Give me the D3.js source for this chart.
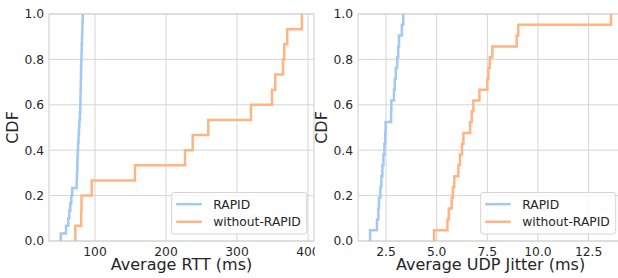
<!DOCTYPE html>
<html>
<head>
<meta charset="utf-8">
<script src="https://cdn.jsdelivr.net/npm/d3@7"></script>
<style>
	body { margin: 0; background: #fff; }
	svg { display: block; font-family: "DejaVu Sans", sans-serif; }
</style>
</head>
<body>
<div id="c-fig"></div>
<script>
//values (sorted samples of each ECDF)
let seriesNames = ["RAPID", "without-RAPID"];

let rttRapid = [51.7, 59.2, 62.4, 63.8, 65.2, 66.6, 68.0, 74.2, 74.6, 75.0, 75.3, 75.6,
	76.2, 76.8, 77.4, 78.0, 78.7, 79.3, 79.5, 79.7, 79.9, 80.2, 80.4, 80.7,
	81.0, 81.3, 81.7, 82.0, 82.3, 82.7];
let rttWithout = [72.3, 80.5, 81.0, 95.3, 156.3, 226.8, 237.6, 259.6, 319.7,
	349.3, 353.9, 364.8, 366.6, 370.8, 391.5];

let jitterRapid = [1.71, 2.05, 2.12, 2.15, 2.22, 2.27, 2.32, 2.37, 2.42, 2.46, 2.48,
	2.75, 2.76, 2.89, 2.93, 2.98, 3.05, 3.10, 3.14, 3.28, 3.35];
let jitterWithout = [4.87, 5.53, 5.60, 5.74, 5.80, 5.87, 6.07, 6.15, 6.25, 6.32, 6.65,
	6.73, 6.81, 7.11, 7.50, 7.55, 7.62, 7.75, 8.95, 9.03, 13.61];

let rttTicks = [100, 200, 300, 400];
let jitterTicks = [2.5, 5.0, 7.5, 10.0, 12.5];
let cdfTicks = [0, 0.2, 0.4, 0.6, 0.8, 1.0];

let colors = ["#a1c9f4", "#ffb482"];
let ink = "#262626";
let gridColor = "#d5d5d5";

let width = 618, height = 278;

let svg = d3.select("#c-fig")
	.append("svg")
	.attr("width", width)
	.attr("height", height);

//ecdf as step points: (x1,0),(x1,1/n),(x2,1/n),...
function ecdfPoints(vals){
	let s = vals.slice().sort((a, b) => a - b);
	let n = s.length;
	let pts = [[s[0], 0]];
	s.forEach((v, i) => {
		if (i > 0) pts.push([v, i / n]);
		pts.push([v, (i + 1) / n]);
	});
	return pts;
}

function panel(opts){
	let g = svg.append("g");
	if (opts.clip) {
		svg.append("clipPath").attr("id", opts.id + "-clip")
			.append("rect").attr("x", 0).attr("y", 0).attr("width", opts.clip).attr("height", height);
		g.attr("clip-path", `url(#${opts.id}-clip)`);
	}

	const x = d3.scaleLinear().domain(opts.xDomain).range(opts.xRange);
	const y = d3.scaleLinear().domain([0, 1]).range([241, 14]);
	let left = opts.xRange[0], right = opts.xRange[1];

	//background
	g.append("rect")
		.attr("x", left).attr("y", 14)
		.attr("width", right - left).attr("height", 227)
		.attr("fill", "#fff");

	//grid
	g.selectAll(".gx").data(opts.xTicks).enter().append("line")
		.attr("x1", d => x(d)).attr("x2", d => x(d))
		.attr("y1", 14).attr("y2", 241)
		.attr("stroke", gridColor).attr("stroke-width", 1);
	g.selectAll(".gy").data(cdfTicks).enter().append("line")
		.attr("x1", left).attr("x2", right)
		.attr("y1", d => y(d)).attr("y2", d => y(d))
		.attr("stroke", gridColor).attr("stroke-width", 1);

	//spines
	g.append("rect")
		.attr("x", left).attr("y", 14)
		.attr("width", right - left).attr("height", 227)
		.attr("fill", "none").attr("stroke", gridColor).attr("stroke-width", 1.2);

	//lines
	let line = d3.line().x(d => x(d[0])).y(d => y(d[1]));
	let plot = g.append("g");
	opts.series.forEach((vals, i) => {
		plot.append("path")
			.datum(ecdfPoints(vals))
			.attr("d", line)
			.attr("fill", "none")
			.attr("stroke", colors[i])
			.attr("stroke-width", 2.5)
			.attr("stroke-linejoin", "miter");
	});

	//tick labels
	g.selectAll(".tx").data(opts.xTicks).enter().append("text")
		.attr("x", d => x(d)).attr("y", 255.5)
		.attr("text-anchor", "middle")
		.attr("font-size", "12.3px").attr("fill", ink)
		.text(d => opts.fmt(d));
	g.selectAll(".ty").data(cdfTicks).enter().append("text")
		.attr("x", left - 5).attr("y", d => y(d))
		.attr("dy", "0.36em")
		.attr("text-anchor", "end")
		.attr("font-size", "12.3px").attr("fill", ink)
		.text(d => d3.format(".1f")(d));

	//axis labels
	g.append("text")
		.attr("x", (opts.xRange[0] + opts.xRange[1]) / 2).attr("y", 270)
		.attr("text-anchor", "middle")
		.attr("font-size", "16px").attr("fill", ink)
		.text(opts.xLabel);
	g.append("text")
		.attr("transform", `translate(${left - 31},${127.5}) rotate(-90)`)
		.attr("text-anchor", "middle")
		.attr("font-size", "16px").attr("fill", ink)
		.text("CDF");

	//legend
	let lw = 135, lh = 41.5;
	let lx = right - 7.3 - lw, ly = 241 - 7 - lh;
	let leg = g.append("g").attr("transform", `translate(${lx},${ly})`);
	leg.append("rect")
		.attr("width", lw).attr("height", lh)
		.attr("rx", 2.5)
		.attr("fill", "#fff").attr("fill-opacity", 0.8)
		.attr("stroke", gridColor).attr("stroke-width", 1);
	seriesNames.forEach((name, i) => {
		let cy = 11.7 + i * 17.6;
		leg.append("line")
			.attr("x1", 4.5).attr("x2", 30)
			.attr("y1", cy).attr("y2", cy)
			.attr("stroke", colors[i]).attr("stroke-width", 2.5);
		leg.append("text")
			.attr("x", 41.5).attr("y", cy).attr("dy", "0.36em")
			.attr("font-size", "12.3px").attr("fill", ink)
			.text(name);
	});
}

panel({
	id: "rtt",
	xDomain: [35.2, 408.5],
	xRange: [49, 314],
	xTicks: rttTicks,
	fmt: d3.format("d"),
	xLabel: "Average RTT (ms)",
	series: [rttRapid, rttWithout],
	clip: 315
});

panel({
	id: "jit",
	xDomain: [1.12, 14.2],
	xRange: [358.1, 623],
	xTicks: jitterTicks,
	fmt: d3.format(".1f"),
	xLabel: "Average UDP Jitter (ms)",
	series: [jitterRapid, jitterWithout]
});
</script>
</body>
</html>
